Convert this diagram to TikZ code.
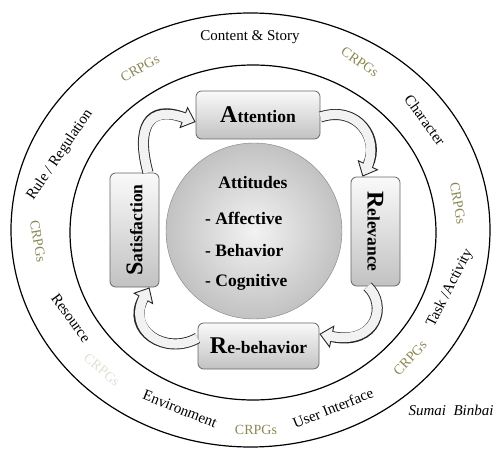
\documentclass[tikz,border=0pt]{standalone}
\usepackage{fontspec}
\setmainfont{Liberation Serif}
\usetikzlibrary{arrows.meta}
\definecolor{crpgColor}{RGB}{140,136,84}
\definecolor{crpgFaintColor}{RGB}{226,224,210}
\tikzstyle{diagram} = [x = 1pt, y = -1pt]
\tikzstyle{ringLine} = [color=black, line width=1.2pt]
\tikzstyle{ringText} = [font=\fontsize{15}{18}\selectfont, inner sep=0pt]
\tikzstyle{crpgText} = [font=\fontsize{14}{17}\selectfont, color=crpgColor, inner sep=0pt]
\tikzstyle{stageBox} = [draw=black!60, line width=.8pt, rounded corners=.2cm, top color=black!2, bottom color=black!24, font=\bfseries\fontsize{17.5}{20}\selectfont, inner sep=0pt]
\tikzstyle{attitudeCircle} = [circle, draw=black!50, inner color=black!5, outer color=black!24, minimum size=176pt]
\tikzstyle{attitudeText} = [font=\bfseries\fontsize{17.5}{20}\selectfont, inner sep=0pt]
\tikzstyle{arrowOutline} = [line width=11pt, color=black!85, -{Triangle[length=13pt, width=23pt, line width=.9pt, fill=black!5]}]
\tikzstyle{arrowInside} = [line width=9.2pt, color=black!5, shorten >=10pt]
\newcommand{\bigLetter}[1]{{\fontsize{24}{28}\selectfont #1}}
\newcommand{\ringLabel}[5]{\node [ringText, rotate = #4] (#1) at (#2, #3) {#5};}
\newcommand{\crpgLabel}[4]{\node [crpgText, rotate = #4] (#1) at (#2, #3) {CRPGs};}
\newcommand{\cycleArrow}[4]{
  \draw [arrowOutline] #1 .. controls +#2 and +#3 .. #4;
  \draw [arrowInside] #1 .. controls +#2 and +#3 .. #4;
}

\begin{document}
\begin{tikzpicture}[diagram]
  \useasboundingbox (0, 0) rectangle (498, 449);
  \draw [ringLine] (250.5, 230) ellipse [x radius = 239.5, y radius = 217];
  \draw [ringLine] (253, 232.5) ellipse [x radius = 183, y radius = 167.5];

  \ringLabel{contentStory}{250}{37}{0}{Content \& Story}
  \ringLabel{character}{425}{120}{-54}{Character}
  \ringLabel{taskActivity}{450}{288}{63}{Task /Activity}
  \ringLabel{userInterface}{333}{408}{22}{User Interface}
  \ringLabel{environment}{180}{409}{-22}{Environment}
  \ringLabel{resource}{71}{318}{-54}{Resource}
  \ringLabel{ruleRegulation}{60}{155}{56}{Rule / Regulation}
  \crpgLabel{crpgTopRight}{360}{62}{-35}
  \crpgLabel{crpgRight}{458}{203}{-80}
  \crpgLabel{crpgLowRight}{410}{358}{47}
  \crpgLabel{crpgBottom}{256}{430}{0}
  \crpgLabel{crpgLeft}{38}{241}{-80}
  \crpgLabel{crpgTopLeft}{140}{68}{29}
  \node [crpgText, color=crpgFaintColor, rotate = -40] (crpgFaint) at (102, 370) {CRPGs};
  \node [ringText] (author) at (451, 410) {\itshape Sumai\ \ Binbai};

  \node [attitudeCircle] (attitudes) at (254, 231) {};
  \node [attitudeText, anchor=base] (attitudesTitle) at (253, 189) {Attitudes};
  \node [attitudeText, anchor=base west] (affective) at (205, 225) {- Affective};
  \node [attitudeText, anchor=base west] (behavior) at (205, 256) {- Behavior};
  \node [attitudeText, anchor=base west] (cognitive) at (205, 287) {- Cognitive};

  \node [stageBox, minimum width=124pt, minimum height=48pt] (attention) at (258, 115) {\bigLetter{A}ttention};
  \node [stageBox, minimum width=49pt, minimum height=109pt] (relevance) at (375.5, 231.5) {\rotatebox{-90}{\bigLetter{R}elevance}};
  \node [stageBox, minimum width=121pt, minimum height=46pt] (rebehavior) at (258.5, 346) {\bigLetter{R}e-behavior};
  \node [stageBox, minimum width=49pt, minimum height=114pt] (satisfaction) at (134.5, 230) {\rotatebox{90}{\bigLetter{S}atisfaction}};

  \cycleArrow{([xshift=13.5pt]satisfaction.north)}{(-12,-44)}{(-48,-18)}{([yshift=-7pt]attention.west)}
  \cycleArrow{([yshift=-2pt]attention.east)}{(37,-12)}{(18,-38)}{([xshift=-13pt]relevance.north)}
  \cycleArrow{([xshift=-8pt]relevance.south)}{(20,18)}{(58,12)}{([yshift=12pt]rebehavior.east)}
  \cycleArrow{([yshift=8pt]rebehavior.west)}{(-32,18)}{(-24,43)}{([xshift=15pt]satisfaction.south)}
\end{tikzpicture}
\end{document}
